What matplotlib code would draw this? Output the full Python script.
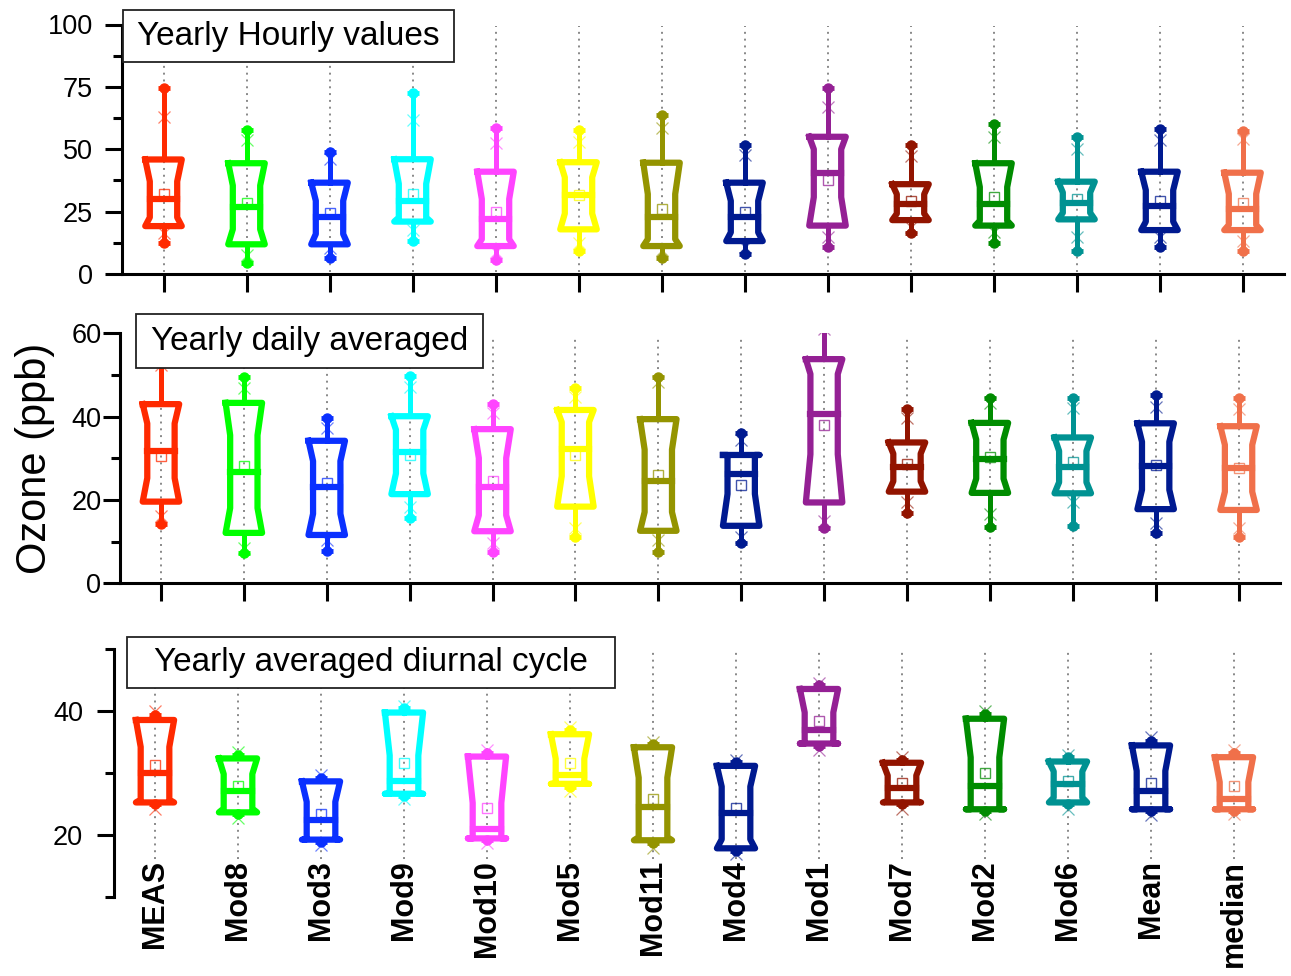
import numpy as np
import matplotlib
matplotlib.use('Agg')
import matplotlib.pyplot as plt
from matplotlib.patches import Rectangle

plt.rcParams['font.family'] = ['Liberation Sans', 'DejaVu Sans']

NAMES = ['MEAS', 'Mod8', 'Mod3', 'Mod9', 'Mod10', 'Mod5', 'Mod11', 'Mod4',
         'Mod1', 'Mod7', 'Mod2', 'Mod6', 'Mean', 'median']
COLORS = ['#FF2A00', '#00FF00', '#0A30FF', '#00FFFF', '#FF44FF', '#FFFF00', '#949400',
          '#001A90', '#942094', '#921400', '#008C00', '#009292', '#001A90', '#F0704A']

# ---- yearly hourly values (ppb) ----
HR_WHI  = [74.4, 57.7, 49.0, 72.4, 58.6, 57.7, 63.7, 51.7, 74.7, 51.7, 60.1, 55.0, 58.0, 57.4]
HR_P99  = [63.0, 53.7, 46.0, 61.7, 52.4, 53.1, 58.6, 47.7, 67.0, 47.3, 55.0, 50.0, 53.7, 54.0]
HR_Q3   = [45.9, 44.4, 36.6, 46.0, 41.0, 44.8, 44.6, 36.6, 55.0, 36.0, 44.4, 37.0, 41.0, 40.6]
HR_MED  = [29.9, 26.7, 22.7, 29.4, 22.0, 31.5, 23.0, 23.0, 40.4, 28.1, 28.1, 28.6, 27.3, 25.9]
HR_MEAN = [32.0, 28.6, 24.6, 32.0, 25.0, 31.8, 25.9, 25.0, 37.7, 29.3, 30.7, 29.9, 29.4, 28.3]
HR_Q1   = [19.2, 11.9, 11.9, 21.0, 11.2, 17.9, 11.2, 13.2, 19.4, 21.6, 19.4, 21.9, 17.6, 17.6]
HR_P01  = [16.4,  7.6, 10.4, 17.6,  8.9, 12.5,  9.6, 10.7, 14.7, 19.0, 17.0, 15.0, 14.7, 13.3]
HR_WLO  = [12.5,  4.3,  6.3, 13.3,  5.6,  9.3,  6.3,  8.0, 10.7, 16.6, 12.5,  9.3, 10.7,  9.3]

# ---- yearly daily averaged (ppb) ----
DY_WHI  = [55.0, 49.4, 39.6, 49.8, 43.0, 46.8, 49.6, 36.1, 63.0, 41.8, 44.4, 44.4, 45.2, 44.4]
DY_P99  = [52.5, 46.8, 37.2, 47.0, 40.8, 44.8, 48.4, 34.4, 61.0, 39.6, 43.2, 42.0, 42.4, 41.8]
DY_Q3   = [43.0, 43.3, 34.2, 40.1, 37.0, 41.6, 39.4, 30.8, 53.8, 33.8, 38.5, 35.0, 38.4, 37.7]
DY_MED  = [31.8, 26.8, 23.0, 31.6, 23.2, 32.2, 24.6, 26.2, 40.6, 27.8, 29.8, 28.0, 28.2, 27.6]
DY_MEAN = [30.5, 28.2, 24.0, 30.8, 24.6, 30.8, 26.0, 23.6, 38.0, 28.6, 30.4, 29.2, 28.4, 27.6]
DY_Q1   = [19.6, 12.1, 11.6, 21.4, 12.5, 18.4, 12.6, 13.8, 19.4, 22.0, 21.7, 21.6, 17.8, 17.6]
DY_P01  = [16.2,  8.4, 10.4, 18.4,  9.6, 13.2, 10.4, 11.2, 15.0, 19.4, 16.6, 19.4, 14.4, 13.2]
DY_WLO  = [14.2,  7.2,  7.8, 15.6,  7.6, 11.2,  7.6,  9.7, 13.2, 16.8, 13.6, 13.8, 12.0, 11.2]

# ---- yearly averaged diurnal cycle (ppb) ----
DC_WHI  = [39.4, 32.9, 29.2, 40.5, 33.3, 37.0, 34.7, 31.9, 44.3, 32.2, 39.5, 32.6, 35.2, 33.2]
DC_P99  = [40.1, 33.5, 29.7, 40.9, 33.7, 37.4, 35.0, 32.2, 44.6, 32.7, 40.1, 32.9, 35.8, 33.8]
DC_Q3   = [38.6, 32.4, 28.7, 39.8, 32.7, 36.3, 34.2, 31.2, 43.6, 31.7, 38.8, 31.9, 34.5, 32.6]
DC_MED  = [30.0, 27.1, 22.4, 28.7, 21.0, 29.8, 24.5, 23.6, 37.0, 27.6, 27.9, 28.2, 27.1, 25.9]
DC_MEAN = [31.3, 27.9, 23.5, 31.7, 24.4, 31.6, 25.8, 24.4, 38.5, 28.4, 30.0, 28.7, 28.5, 27.9]
DC_Q1   = [25.3, 23.7, 19.3, 26.7, 19.5, 28.3, 19.2, 17.9, 34.8, 25.3, 24.2, 25.3, 24.2, 24.2]
DC_P01  = [24.3, 22.8, 18.4, 25.8, 18.7, 27.2, 18.0, 17.0, 33.8, 24.3, 23.4, 24.3, 23.2, 23.4]
DC_WLO  = [25.0, 23.4, 19.0, 26.3, 19.3, 27.8, 18.7, 17.5, 34.4, 25.0, 23.9, 25.0, 23.9, 23.9]

W, H = 1291, 976
fig = plt.figure(figsize=(W / 100, H / 100), dpi=100)


def px_axes(l, r, t, b):
    return fig.add_axes([l / W, (H - b) / H, (r - l) / W, (b - t) / H])


def draw_boxes(ax, whi, p99, q3, med, mean, q1, p01, wlo, hw, notch):
    xs = np.arange(1, len(NAMES) + 1)
    nw = hw * 0.75
    for x, c, a, b, c3, m, mu, c1, d, e in zip(xs, COLORS, whi, p99, q3, med, mean,
                                                q1, p01, wlo):
        n = notch * (c3 - c1)
        hi, lo = min(m + n, c3), max(m - n, c1)
        bx = [x - hw, x - nw, x - nw, x - hw, x + hw, x + nw, x + nw, x + hw, x - hw]
        by = [c3, hi, lo, c1, c1, lo, hi, c3, c3]
        ax.plot(bx, by, color=c, lw=4.5, solid_joinstyle='round', zorder=4)
        # median bar, clipped to the notch width
        ax.plot([x - nw, x + nw], [m, m], color=c, lw=4.5, zorder=4)
        ax.plot([x, x], [c3, a], color=c, lw=3.6, zorder=3)
        ax.plot([x, x], [c1, e], color=c, lw=3.6, zorder=3)
        ax.plot([x, x], [a, e], 'o', color=c, ms=6.5, zorder=4)
        ax.plot([x, x], [a, e], '_', color=c, ms=9, mew=3.5, zorder=4)
        ax.plot([x, x], [b, d], 'x', color=c, ms=9, mew=0.9, alpha=0.6, zorder=5)
        ax.plot(x, mu, 's', mfc='none', mec=c, ms=7, mew=1.0, alpha=0.75, zorder=5)


def label_box(ax, x0, x1, y0, y1, text):
    ax.add_patch(Rectangle((x0, y0), x1 - x0, y1 - y0, transform=ax.transAxes,
                           facecolor='white', edgecolor='#222222', lw=1.3,
                           clip_on=False, zorder=10))
    ax.text((x0 + x1) / 2, (y0 + y1) / 2, text, transform=ax.transAxes,
            ha='center', va='center', fontsize=24, zorder=11)


def style(ax, ylim, major, minor, pad, show_x=True):
    ax.set_xlim(0.5, 14.5)
    ax.set_ylim(*ylim)
    ax.set_yticks(major)
    ax.set_yticks(minor, minor=True)
    ax.spines['top'].set_visible(False)
    ax.spines['right'].set_visible(False)
    ax.spines['left'].set_linewidth(2.2)
    ax.tick_params(axis='y', which='major', length=12, width=2.2, labelsize=19.5, pad=pad)
    ax.tick_params(axis='y', which='minor', length=6.5, width=2.2)
    if show_x:
        ax.spines['bottom'].set_linewidth(2.2)
        ax.set_xticks(np.arange(1, 15))
        ax.set_xticklabels([])
        ax.tick_params(axis='x', length=13, width=2.2)
    else:
        ax.spines['bottom'].set_visible(False)
        ax.set_xticks([])


# top: hourly
ax1 = px_axes(122, 1284, 24.5, 274)
ax1.vlines(np.arange(1, 15), 1, 99.5, colors='#888888', lw=1.4,
           linestyles=(0, (1, 2.5)), zorder=1)
draw_boxes(ax1, HR_WHI, HR_P99, HR_Q3, HR_MED, HR_MEAN, HR_Q1, HR_P01, HR_WLO, 0.22, 0.27)
style(ax1, (0, 100), [0, 25, 50, 75, 100], [12.5, 37.5, 62.5, 87.5], 9)
label_box(ax1, 0.001, 0.2857, 0.8497, 1.058, 'Yearly Hourly values')

# middle: daily averaged
ax2 = px_axes(119.5, 1280, 333.3, 583.3)
ax2.vlines(np.arange(1, 15), 0.8, 59.3, colors='#888888', lw=1.4,
           linestyles=(0, (1, 2.5)), zorder=1)
draw_boxes(ax2, DY_WHI, DY_P99, DY_Q3, DY_MED, DY_MEAN, DY_Q1, DY_P01, DY_WLO, 0.22, 0.28)
style(ax2, (0, 60), [0, 20, 40, 60], [10, 30, 50], 1)
label_box(ax2, 0.0142, 0.3132, 0.861, 1.077, 'Yearly daily averaged')
ax2.set_ylabel('Ozone (ppb)', fontsize=30, labelpad=12)

# bottom: diurnal cycle
ax3 = px_axes(113.5, 1275.5, 649.3, 897.3)
ax3.vlines(np.arange(1, 15), 16.2, 50, colors='#888888', lw=1.4,
           linestyles=(0, (1, 2.5)), zorder=1)
draw_boxes(ax3, DC_WHI, DC_P99, DC_Q3, DC_MED, DC_MEAN, DC_Q1, DC_P01, DC_WLO, 0.23, 0.32)
style(ax3, (10, 50), [20, 40], [10, 30, 50], 10, show_x=False)
label_box(ax3, 0.0116, 0.4316, 0.844, 1.0496, 'Yearly averaged diurnal cycle')
for i, name in enumerate(NAMES):
    ax3.text(i + 1, 16.0, name, rotation=90, ha='center', va='top',
             fontsize=22, fontweight='bold', clip_on=False)

fig.savefig('out.png', dpi=100)
